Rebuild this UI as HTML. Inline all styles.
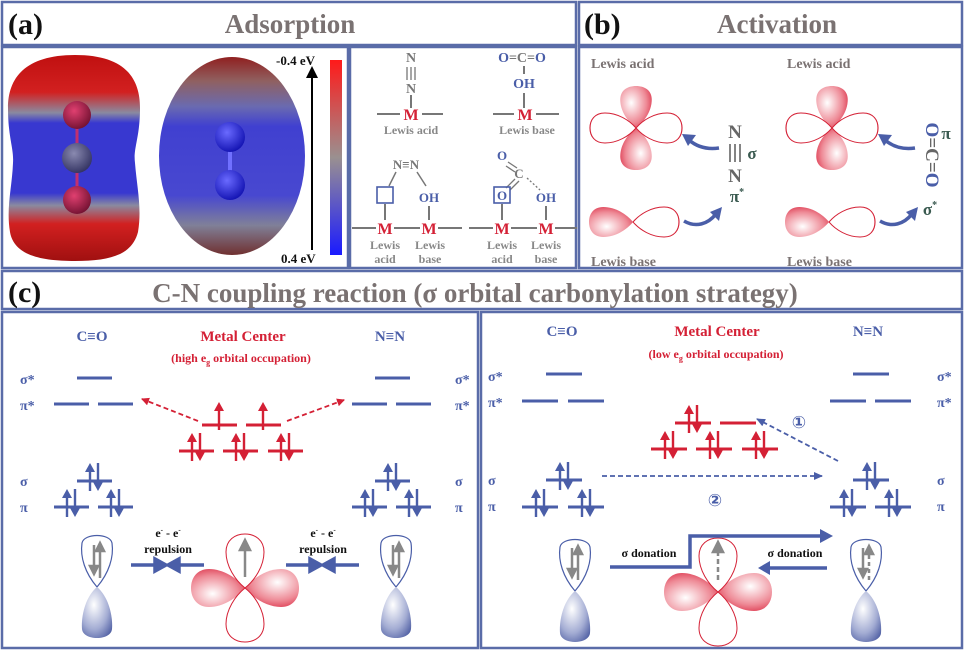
<!DOCTYPE html>
<html><head><meta charset="utf-8"><style>
html,body{margin:0;padding:0;background:#fff}
svg{display:block}
text{font-family:"Liberation Serif",serif;font-weight:bold}
</style></head><body>
<svg width="965" height="651" viewBox="0 0 965 651" xmlns="http://www.w3.org/2000/svg">
<defs>
<radialGradient id="rl" cx="0.35" cy="0.4" r="0.8"><stop offset="0" stop-color="#fff"/><stop offset="0.6" stop-color="#ee8a96"/><stop offset="1" stop-color="#d8203a"/></radialGradient>
<radialGradient id="bl" cx="0.4" cy="0.35" r="0.8"><stop offset="0" stop-color="#fff"/><stop offset="0.6" stop-color="#a3acd3"/><stop offset="1" stop-color="#4a5aa0"/></radialGradient>
<linearGradient id="esp1" x1="0" y1="0" x2="0" y2="1">
<stop offset="0" stop-color="#c01010"/><stop offset="0.18" stop-color="#d22020"/><stop offset="0.28" stop-color="#8a8aa0"/><stop offset="0.33" stop-color="#3838d0"/><stop offset="0.67" stop-color="#3838d0"/><stop offset="0.73" stop-color="#8a8aa0"/><stop offset="0.82" stop-color="#d22020"/><stop offset="1" stop-color="#a01010"/></linearGradient>
<linearGradient id="esp2" x1="0" y1="0" x2="0" y2="1">
<stop offset="0" stop-color="#902020"/><stop offset="0.12" stop-color="#906060"/><stop offset="0.25" stop-color="#6a6ab0"/><stop offset="0.35" stop-color="#4040d0"/><stop offset="0.7" stop-color="#4848d0"/><stop offset="0.85" stop-color="#808098"/><stop offset="1" stop-color="#703030"/></linearGradient>
<linearGradient id="cbar" x1="0" y1="0" x2="0" y2="1"><stop offset="0" stop-color="#ff1a1a"/><stop offset="0.5" stop-color="#9a9090"/><stop offset="1" stop-color="#1a1aff"/></linearGradient>
<radialGradient id="ball" cx="0.4" cy="0.35" r="0.7"><stop offset="0" stop-color="#6a6aff"/><stop offset="1" stop-color="#1010b0"/></radialGradient>
<radialGradient id="ballr" cx="0.4" cy="0.35" r="0.7"><stop offset="0" stop-color="#e04070"/><stop offset="1" stop-color="#701030"/></radialGradient>
<radialGradient id="ballg" cx="0.4" cy="0.35" r="0.7"><stop offset="0" stop-color="#8a8ab0"/><stop offset="1" stop-color="#303060"/></radialGradient>
<path id="lobe" d="M0,0 C-10,-8 -19,-22 -19,-36 C-19,-48 -10,-54 0,-54 C10,-54 19,-48 19,-36 C19,-22 10,-8 0,0Z"/>
<path id="lobeS" d="M0,0 C-8,-6 -15,-16 -15,-27 C-15,-36 -8,-40 0,-40 C8,-40 15,-36 15,-27 C15,-16 8,-6 0,0Z"/>
<g id="pB" stroke="#4a5ea8" stroke-width="2.4" fill="#4a5ea8">
<line x1="-4" y1="13" x2="-4" y2="-10"/><path d="M-4,-15 L-9,-6 L1,-6Z" stroke="none"/>
<line x1="4" y1="-15" x2="4" y2="8"/><path d="M4,13 L-1,4 L9,4Z" stroke="none"/></g>
<g id="pR" stroke="#d42035" stroke-width="2.4" fill="#d42035">
<line x1="-4" y1="13" x2="-4" y2="-10"/><path d="M-4,-15 L-9,-6 L1,-6Z" stroke="none"/>
<line x1="4" y1="-15" x2="4" y2="8"/><path d="M4,13 L-1,4 L9,4Z" stroke="none"/></g>
<g id="uR" stroke="#d42035" stroke-width="2.4" fill="#d42035">
<line x1="0" y1="13" x2="0" y2="-10"/><path d="M0,-15 L-5,-6 L5,-6Z" stroke="none"/></g>
<g id="sp">
<path d="M0,0 C-12,-14 -17,-30 -15,-44 C-13,-54 13,-54 15,-44 C17,-30 12,-14 0,0Z" fill="#fff" stroke="#4a5ea8" stroke-width="1.2"/>
<path d="M0,0 C-12,10 -16,30 -15,42 C-14,54 14,54 15,42 C16,30 12,10 0,0Z" fill="url(#bl)"/>
</g>
<g id="dOrbH">
<use href="#lobe" transform="rotate(90)" fill="url(#rl)"/>
<use href="#lobe" transform="rotate(-90)" fill="url(#rl)"/>
<use href="#lobe" fill="#fff" stroke="#d42035" stroke-width="1"/>
<use href="#lobe" transform="rotate(180)" fill="#fff" stroke="#d42035" stroke-width="1"/>
</g>
<marker id="ahR" markerWidth="8" markerHeight="8" refX="7" refY="4" orient="auto" markerUnits="userSpaceOnUse"><path d="M0,0 L8,4 L0,8Z" fill="#d42035"/></marker>
<marker id="ahB" markerWidth="9" markerHeight="8" refX="8" refY="4" orient="auto" markerUnits="userSpaceOnUse"><path d="M0,0 L9,4 L0,8Z" fill="#4a5ea8"/></marker>
</defs>

<!-- frames -->
<g fill="none" stroke="#5a6ca8" stroke-width="2.5">
<rect x="2" y="2" width="574" height="43"/>
<rect x="2" y="47" width="346" height="221"/>
<rect x="350" y="47" width="226" height="221"/>
<rect x="579" y="2" width="383" height="43"/>
<rect x="579" y="47" width="383" height="221"/>
<rect x="2" y="271" width="960" height="38"/>
<rect x="2" y="312" width="476" height="336"/>
<rect x="481" y="312" width="481" height="336"/>
</g>

<!-- (a) -->
<text x="8" y="34" font-size="30" fill="#111">(a)</text>
<text x="290" y="33" font-size="27" fill="#7a7272" text-anchor="middle">Adsorption</text>
<path d="M75,55 C125,55 140,78 140,108 C140,138 133,148 135,163 C137,188 142,208 138,232 C132,255 110,261 75,261 C40,261 14,255 10,232 C6,208 12,188 13,163 C14,148 8,138 8,108 C8,78 25,55 75,55Z" fill="url(#esp1)"/>
<line x1="77" y1="115" x2="77" y2="200" stroke="#c03070" stroke-width="3"/>
<circle cx="77" cy="115" r="14" fill="url(#ballr)"/>
<circle cx="77" cy="158" r="15" fill="url(#ballg)"/>
<circle cx="77" cy="200" r="14" fill="url(#ballr)"/>
<ellipse cx="232" cy="156" rx="73" ry="99" fill="url(#esp2)"/>
<line x1="230" y1="137" x2="230" y2="185" stroke="#7070ff" stroke-width="4"/>
<circle cx="230" cy="137" r="15" fill="url(#ball)"/>
<circle cx="230" cy="185" r="15" fill="url(#ball)"/>
<line x1="312" y1="250" x2="312" y2="74" stroke="#000" stroke-width="2"/>
<path d="M312,66 L306,78 L318,78Z" fill="#000"/>
<text x="276" y="65" font-size="13" fill="#111">-0.4 eV</text>
<text x="281" y="263" font-size="13" fill="#111">0.4 eV</text>
<rect x="330" y="60" width="12" height="195" fill="url(#cbar)"/>

<g font-size="14" text-anchor="middle">
<text x="411" y="62" fill="#777">N</text>
<g stroke="#777" stroke-width="1.3"><line x1="407" y1="67" x2="407" y2="80"/><line x1="411" y1="67" x2="411" y2="80"/><line x1="415" y1="67" x2="415" y2="80"/></g>
<text x="411" y="93" fill="#777">N</text>
<line x1="411" y1="95" x2="411" y2="108" stroke="#777" stroke-width="2"/>
<line x1="377" y1="114" x2="400" y2="114" stroke="#777" stroke-width="2"/>
<line x1="422" y1="114" x2="443" y2="114" stroke="#777" stroke-width="2"/>
<text x="411" y="120" fill="#d42035" font-size="16">M</text>
<text x="411" y="134" fill="#888" font-size="12">Lewis acid</text>

<text x="522" y="62" fill="#4a5ea8" font-size="14">O<tspan fill="#777">=C=</tspan>O</text>
<line x1="524" y1="66" x2="524" y2="74" stroke="#777" stroke-width="2"/>
<text x="524" y="88" fill="#4a5ea8" font-size="14">OH</text>
<line x1="524" y1="93" x2="524" y2="108" stroke="#777" stroke-width="2"/>
<line x1="493" y1="114" x2="514" y2="114" stroke="#777" stroke-width="2"/>
<line x1="536" y1="114" x2="559" y2="114" stroke="#777" stroke-width="2"/>
<text x="525" y="120" fill="#d42035" font-size="16">M</text>
<text x="527" y="134" fill="#888" font-size="12">Lewis base</text>

<text x="406" y="169" fill="#777" font-size="13">N≡N</text>
<line x1="396" y1="172" x2="389" y2="186" stroke="#777" stroke-width="1.5"/>
<line x1="417" y1="172" x2="426" y2="186" stroke="#777" stroke-width="1.5"/>
<rect x="377" y="187" width="16" height="16" fill="none" stroke="#4a5ea8" stroke-width="1.6"/>
<line x1="385" y1="204" x2="385" y2="220" stroke="#777" stroke-width="2"/>
<text x="429" y="202" fill="#4a5ea8" font-size="13">OH</text>
<line x1="429" y1="206" x2="429" y2="220" stroke="#777" stroke-width="2"/>
<line x1="352" y1="228" x2="376" y2="228" stroke="#777" stroke-width="2"/>
<line x1="394" y1="228" x2="420" y2="228" stroke="#777" stroke-width="2"/>
<line x1="438" y1="228" x2="462" y2="228" stroke="#777" stroke-width="2"/>
<text x="385" y="234" fill="#d42035" font-size="16">M</text>
<text x="429" y="234" fill="#d42035" font-size="16">M</text>
<text x="385" y="249" fill="#888" font-size="12">Lewis</text><text x="385" y="263" fill="#888" font-size="12">acid</text>
<text x="430" y="249" fill="#888" font-size="12">Lewis</text><text x="430" y="263" fill="#888" font-size="12">base</text>

<text x="502" y="160" fill="#4a5ea8" font-size="13">O</text>
<line x1="508" y1="162" x2="517" y2="168" stroke="#777" stroke-width="1.3"/>
<line x1="506" y1="166" x2="515" y2="172" stroke="#777" stroke-width="1.3"/>
<text x="519" y="178" fill="#777" font-size="13">C</text>
<line x1="515" y1="179" x2="506" y2="188" stroke="#777" stroke-width="1.3"/>
<line x1="519" y1="181" x2="510" y2="190" stroke="#777" stroke-width="1.3"/>
<line x1="527" y1="178" x2="540" y2="190" stroke="#777" stroke-width="1.3" stroke-dasharray="2,2"/>
<rect x="494" y="187" width="16" height="16" fill="none" stroke="#4a5ea8" stroke-width="1.6"/>
<text x="502" y="200" fill="#4a5ea8" font-size="13">O</text>
<line x1="502" y1="204" x2="502" y2="220" stroke="#777" stroke-width="2"/>
<text x="546" y="202" fill="#4a5ea8" font-size="13">OH</text>
<line x1="546" y1="206" x2="546" y2="220" stroke="#777" stroke-width="2"/>
<line x1="469" y1="228" x2="493" y2="228" stroke="#777" stroke-width="2"/>
<line x1="511" y1="228" x2="537" y2="228" stroke="#777" stroke-width="2"/>
<line x1="555" y1="228" x2="577" y2="228" stroke="#777" stroke-width="2"/>
<text x="502" y="234" fill="#d42035" font-size="16">M</text>
<text x="546" y="234" fill="#d42035" font-size="16">M</text>
<text x="502" y="249" fill="#888" font-size="12">Lewis</text><text x="502" y="263" fill="#888" font-size="12">acid</text>
<text x="546" y="249" fill="#888" font-size="12">Lewis</text><text x="546" y="263" fill="#888" font-size="12">base</text>
</g>

<!-- (b) -->
<text x="584" y="34" font-size="30" fill="#111">(b)</text>
<text x="777" y="33" font-size="27" fill="#7a7272" text-anchor="middle">Activation</text>
<g font-size="14" fill="#7a7272">
<text x="591" y="68">Lewis acid</text><text x="787" y="68">Lewis acid</text>
<text x="591" y="266">Lewis base</text><text x="787" y="266">Lewis base</text>
</g>
<g transform="translate(636,128)">
<use href="#lobeS" transform="scale(1.05)" fill="url(#rl)"/>
<use href="#lobeS" transform="rotate(180) scale(1.05)" fill="url(#rl)"/>
<use href="#lobeS" transform="rotate(90) scale(1,1.15)" fill="#fff" stroke="#d42035" stroke-width="1"/>
<use href="#lobeS" transform="rotate(-90) scale(1,1.15)" fill="#fff" stroke="#d42035" stroke-width="1"/>
</g>
<g transform="translate(832,128)">
<use href="#lobeS" transform="scale(1.05)" fill="url(#rl)"/>
<use href="#lobeS" transform="rotate(180) scale(1.05)" fill="url(#rl)"/>
<use href="#lobeS" transform="rotate(90) scale(1,1.15)" fill="#fff" stroke="#d42035" stroke-width="1"/>
<use href="#lobeS" transform="rotate(-90) scale(1,1.15)" fill="#fff" stroke="#d42035" stroke-width="1"/>
</g>
<g transform="translate(633,222)">
<use href="#lobeS" transform="rotate(-90) scale(1,1.1)" fill="url(#rl)"/>
<use href="#lobeS" transform="rotate(90) scale(1,1.15)" fill="#fff" stroke="#d42035" stroke-width="1"/>
</g>
<g transform="translate(829,222)">
<use href="#lobeS" transform="rotate(-90) scale(1,1.1)" fill="url(#rl)"/>
<use href="#lobeS" transform="rotate(90) scale(1,1.15)" fill="#fff" stroke="#d42035" stroke-width="1"/>
</g>
<g fill="none" stroke="#4a5ea8" stroke-width="3.5">
<path d="M719,148 C705,150 696,146 689,140"/><path d="M915,148 C901,150 892,146 885,140"/>
<path d="M684,221 C696,228 708,224 716,214"/><path d="M880,221 C892,228 904,224 912,214"/>
</g>
<g fill="#4a5ea8">
<path d="M682,134 L696,135 L688,146Z"/><path d="M878,134 L892,135 L884,146Z"/>
<path d="M722,207 L719,221 L710,212Z"/><path d="M918,207 L915,221 L906,212Z"/>
</g>
<g text-anchor="middle">
<text x="735" y="138" font-size="19" fill="#666">N</text>
<g stroke="#666" stroke-width="1.6"><line x1="730" y1="144" x2="730" y2="162"/><line x1="735" y1="144" x2="735" y2="162"/><line x1="740" y1="144" x2="740" y2="162"/></g>
<text x="735" y="182" font-size="19" fill="#666">N</text>
<text x="752" y="159" font-size="17" fill="#3a5a50">σ</text>
<text x="737" y="202" font-size="17" fill="#3a5a50">π<tspan font-size="10" dy="-7">*</tspan></text>
<text x="926" y="155" font-size="19" fill="#666" transform="rotate(90 926 155)"><tspan fill="#4a5ea8">O</tspan>=C=<tspan fill="#4a5ea8">O</tspan></text>
<text x="946" y="139" font-size="17" fill="#3a5a50">π</text>
<text x="930" y="215" font-size="17" fill="#3a5a50">σ<tspan font-size="10" dy="-7">*</tspan></text>
</g>

<!-- (c) header -->
<text x="8" y="302" font-size="30" fill="#111">(c)</text>
<text x="475" y="302" font-size="27" fill="#7a7272" text-anchor="middle">C-N coupling reaction (σ orbital carbonylation strategy)</text>

<!-- (c) left -->
<g text-anchor="middle">
<text x="92" y="341" font-size="15" fill="#4a5ea8">C≡O</text>
<text x="243" y="341" font-size="15" fill="#d42035">Metal Center</text>
<text x="241" y="362" font-size="12" fill="#d42035">(high e<tspan font-size="8" dy="3">g</tspan><tspan dy="-3"> orbital occupation)</tspan></text>
<text x="390" y="341" font-size="15" fill="#4a5ea8">N≡N</text>
</g>
<g font-size="14" fill="#4a5ea8">
<text x="20" y="384">σ*</text><text x="20" y="410">π*</text><text x="20" y="486">σ</text><text x="20" y="512">π</text>
<text x="455" y="384">σ*</text><text x="455" y="410">π*</text><text x="455" y="486">σ</text><text x="455" y="512">π</text>
</g>
<g stroke="#4a5ea8" stroke-width="3">
<line x1="77" y1="378" x2="112" y2="378"/><line x1="54" y1="404" x2="89" y2="404"/><line x1="98" y1="404" x2="133" y2="404"/>
<line x1="375" y1="378" x2="410" y2="378"/><line x1="352" y1="404" x2="387" y2="404"/><line x1="396" y1="404" x2="431" y2="404"/>
<line x1="77" y1="481" x2="112" y2="481"/><line x1="54" y1="507" x2="89" y2="507"/><line x1="98" y1="507" x2="133" y2="507"/>
<line x1="375" y1="481" x2="410" y2="481"/><line x1="352" y1="507" x2="387" y2="507"/><line x1="396" y1="507" x2="431" y2="507"/>
</g>
<use href="#pB" x="94" y="478"/><use href="#pB" x="71" y="504"/><use href="#pB" x="115" y="504"/>
<use href="#pB" x="392" y="478"/><use href="#pB" x="369" y="504"/><use href="#pB" x="413" y="504"/>
<g stroke="#d42035" stroke-width="3">
<line x1="202" y1="425" x2="237" y2="425"/><line x1="246" y1="425" x2="281" y2="425"/>
<line x1="179" y1="451" x2="214" y2="451"/><line x1="223" y1="451" x2="258" y2="451"/><line x1="268" y1="451" x2="303" y2="451"/>
</g>
<use href="#uR" x="219" y="417"/><use href="#uR" x="263" y="417"/>
<use href="#pR" x="196" y="448"/><use href="#pR" x="240" y="448"/><use href="#pR" x="285" y="448"/>
<line x1="198" y1="421" x2="142" y2="399" stroke="#d42035" stroke-width="1.8" stroke-dasharray="5,3" marker-end="url(#ahR)"/>
<line x1="287" y1="421" x2="344" y2="400" stroke="#d42035" stroke-width="1.8" stroke-dasharray="5,3" marker-end="url(#ahR)"/>
<use href="#sp" x="97" y="587"/><use href="#sp" x="396" y="587"/>
<g stroke="#888" stroke-width="2.5" fill="#888">
<line x1="94" y1="545" x2="94" y2="570"/><path d="M94,574 L90,566 L98,566Z"/><line x1="100" y1="578" x2="100" y2="548"/><path d="M100,543 L96,551 L104,551Z"/>
<line x1="393" y1="545" x2="393" y2="570"/><path d="M393,574 L389,566 L397,566Z"/><line x1="399" y1="578" x2="399" y2="548"/><path d="M399,543 L395,551 L403,551Z"/>
</g>
<use href="#dOrbH" x="245" y="588"/>
<g stroke="#888" stroke-width="2.5" fill="#888"><line x1="245" y1="577" x2="245" y2="546"/><path d="M245,540 L240,550 L250,550Z"/></g>
<g text-anchor="middle" font-size="12" fill="#111">
<text x="168" y="537">e<tspan font-size="7" dy="-5">-</tspan><tspan dy="5"> - e</tspan><tspan font-size="7" dy="-5">-</tspan></text>
<text x="168" y="553">repulsion</text>
<text x="323" y="537">e<tspan font-size="7" dy="-5">-</tspan><tspan dy="5"> - e</tspan><tspan font-size="7" dy="-5">-</tspan></text>
<text x="323" y="553">repulsion</text>
</g>
<g stroke="#4a5ea8" stroke-width="3.5" fill="#4a5ea8">
<line x1="131" y1="565" x2="156" y2="565"/><path d="M166,565 L155,559 L155,571Z"/>
<line x1="204" y1="565" x2="178" y2="565"/><path d="M168,565 L179,559 L179,571Z"/>
<line x1="286" y1="565" x2="311" y2="565"/><path d="M321,565 L310,559 L310,571Z"/>
<line x1="359" y1="565" x2="333" y2="565"/><path d="M323,565 L334,559 L334,571Z"/>
</g>

<!-- (c) right -->
<g text-anchor="middle">
<text x="562" y="336" font-size="15" fill="#4a5ea8">C≡O</text>
<text x="717" y="336" font-size="15" fill="#d42035">Metal Center</text>
<text x="716" y="358" font-size="12" fill="#d42035">(low e<tspan font-size="8" dy="3">g</tspan><tspan dy="-3"> orbital occupation)</tspan></text>
<text x="868" y="336" font-size="15" fill="#4a5ea8">N≡N</text>
</g>
<g font-size="14" fill="#4a5ea8">
<text x="488" y="381">σ*</text><text x="488" y="407">π*</text><text x="488" y="485">σ</text><text x="488" y="511">π</text>
<text x="937" y="381">σ*</text><text x="937" y="407">π*</text><text x="937" y="485">σ</text><text x="937" y="511">π</text>
</g>
<g stroke="#4a5ea8" stroke-width="3">
<line x1="546" y1="374" x2="582" y2="374"/><line x1="522" y1="401" x2="558" y2="401"/><line x1="568" y1="401" x2="604" y2="401"/>
<line x1="853" y1="374" x2="889" y2="374"/><line x1="830" y1="401" x2="866" y2="401"/><line x1="875" y1="401" x2="911" y2="401"/>
<line x1="546" y1="480" x2="582" y2="480"/><line x1="522" y1="507" x2="558" y2="507"/><line x1="568" y1="507" x2="604" y2="507"/>
<line x1="853" y1="480" x2="889" y2="480"/><line x1="830" y1="507" x2="866" y2="507"/><line x1="875" y1="507" x2="911" y2="507"/>
</g>
<use href="#pB" x="564" y="477"/><use href="#pB" x="540" y="504"/><use href="#pB" x="586" y="504"/>
<use href="#pB" x="871" y="477"/><use href="#pB" x="848" y="504"/><use href="#pB" x="893" y="504"/>
<g stroke="#d42035" stroke-width="3">
<line x1="675" y1="423" x2="711" y2="423"/><line x1="720" y1="423" x2="756" y2="423"/>
<line x1="651" y1="449" x2="687" y2="449"/><line x1="696" y1="449" x2="732" y2="449"/><line x1="742" y1="449" x2="778" y2="449"/>
</g>
<use href="#pR" x="693" y="420"/>
<use href="#pR" x="669" y="446"/><use href="#pR" x="714" y="446"/><use href="#pR" x="760" y="446"/>
<line x1="838" y1="461" x2="757" y2="419" stroke="#4a5ea8" stroke-width="1.8" stroke-dasharray="5,3" marker-end="url(#ahB)"/>
<line x1="602" y1="476" x2="822" y2="476" stroke="#4a5ea8" stroke-width="1.8" stroke-dasharray="5,3" marker-end="url(#ahB)"/>
<text x="799" y="428" font-size="17" fill="#4a5ea8" font-weight="normal" text-anchor="middle" style="font-family:'DejaVu Sans',sans-serif">①</text>
<text x="715" y="506" font-size="17" fill="#4a5ea8" font-weight="normal" text-anchor="middle" style="font-family:'DejaVu Sans',sans-serif">②</text>
<use href="#sp" x="575" y="591"/><use href="#sp" x="866" y="591"/>
<g stroke="#888" stroke-width="2.5" fill="#888">
<line x1="572" y1="548" x2="572" y2="573"/><path d="M572,577 L568,569 L576,569Z"/><line x1="578" y1="580" x2="578" y2="551"/><path d="M578,546 L574,554 L582,554Z"/>
<line x1="863" y1="548" x2="863" y2="573"/><path d="M863,577 L859,569 L867,569Z"/>
<line x1="869" y1="580" x2="869" y2="551" stroke-dasharray="4,3"/><path d="M869,546 L865,554 L873,554Z"/>
</g>
<use href="#dOrbH" x="718" y="592"/>
<g stroke="#888" stroke-width="2.5" fill="#888"><line x1="718" y1="580" x2="718" y2="548" stroke-dasharray="5,3"/><path d="M718,542 L713,552 L723,552Z"/></g>
<g font-size="12" fill="#111" text-anchor="middle">
<text x="649" y="557">σ donation</text><text x="795" y="557">σ donation</text>
</g>
<path d="M610,567 L690,567 L690,536 L823,536" fill="none" stroke="#4a5ea8" stroke-width="3.5"/>
<path d="M833,536 L820,529 L820,543Z" fill="#4a5ea8"/>
<line x1="827" y1="568" x2="768" y2="568" stroke="#4a5ea8" stroke-width="3.5"/>
<path d="M758,568 L770,561 L770,575Z" fill="#4a5ea8"/>
</svg>
</body></html>
